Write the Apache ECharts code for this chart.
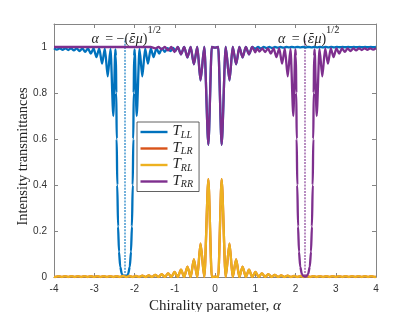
<!DOCTYPE html>
<html><head><meta charset="utf-8">
<script src="https://cdn.jsdelivr.net/npm/echarts@6/dist/echarts.min.js"></script>
<style>html,body{margin:0;padding:0;background:#fff}#c{width:415px;height:312px}</style>
</head><body><div id="c"></div>
<script>
// ---- data ----
const seriesNames = ['T_LL', 'T_LR', 'T_RL', 'T_RR'];
const resonanceAlpha = [-2.236, 2.236];
const dottedTop = 1.036;
const dottedBottom = 0.004;

const tLL = [
[-4.000,0.995],[-3.926,0.989],[-3.856,0.994],[-3.786,0.988],[-3.716,0.994],[-3.646,0.987],[-3.576,0.994],[-3.506,0.985],[-3.436,0.994],[-3.366,0.982],[-3.296,0.994],[-3.226,0.979],[-3.156,0.994],[-3.086,0.971],[-3.016,0.994],[-2.946,0.956],[-2.876,0.994],[-2.806,0.928],[-2.736,0.993],[-2.666,0.872],[-2.596,0.992],[-2.526,0.700],[-2.476,0.990],
[-2.462,0.960],[-2.452,0.800],[-2.442,0.600],[-2.428,0.400],[-2.408,0.220],[-2.385,0.110],[-2.355,0.045],[-2.315,0.014],[-2.275,0.004],[-2.236,0.002],[-2.197,0.004],[-2.157,0.014],[-2.117,0.045],[-2.087,0.110],[-2.064,0.220],[-2.044,0.400],[-2.030,0.600],[-2.020,0.800],[-2.010,0.960],
[-1.996,0.990],[-1.946,0.700],[-1.876,0.992],[-1.806,0.872],[-1.736,0.993],[-1.666,0.928],[-1.596,0.994],[-1.526,0.956],[-1.456,0.994],[-1.386,0.971],[-1.316,0.994],[-1.246,0.979],[-1.176,0.995],[-1.106,0.982],[-1.040,0.996],[-0.975,0.984],
[-0.925,1.000],[-0.845,0.968],[-0.765,1.000],[-0.685,0.955],[-0.605,1.000],[-0.525,0.925],[-0.440,1.000],[-0.360,0.855],[-0.265,1.000],[-0.165,0.575],[-0.080,1.000],[0.000,0.997],[0.080,1.000],[0.165,0.575],[0.265,1.000],[0.360,0.855],[0.440,1.000],[0.525,0.925],[0.605,1.000],[0.685,0.955],[0.765,1.000],[0.845,0.968],[0.925,1.000],
[1.000,0.992],[1.070,1.000],[1.140,0.994],[1.210,1.000],[1.280,0.995],[1.350,1.000],[1.420,0.996],[1.490,1.000],[1.560,0.997],[1.630,1.000],[1.700,0.997],[1.770,1.000],[1.840,0.998],[1.910,1.000],[1.980,0.998],[2.050,1.000],[2.120,0.998],[2.190,1.000],[2.260,0.998],[2.330,1.000],[2.400,0.998],[2.470,1.000],[2.540,0.998],[2.610,1.000],[2.680,0.998],[2.750,1.000],[2.820,0.998],[2.890,1.000],[2.960,0.998],[3.030,1.000],[3.100,0.999],[3.170,1.000],[3.240,0.999],[3.310,1.000],[3.380,0.999],[3.450,1.000],[3.520,0.999],[3.590,1.000],[3.660,0.999],[3.730,1.000],[3.800,0.999],[3.870,1.000],[3.940,0.999],[4.000,1.000]
];

const tRR = [
[-4.000,1.000],[-1.600,1.000],[-1.485,0.994],[-1.405,1.000],[-1.325,0.990],[-1.245,1.000],[-1.165,0.985],[-1.085,1.000],[-1.005,0.978],
[-0.925,1.000],[-0.845,0.968],[-0.765,1.000],[-0.685,0.955],[-0.605,1.000],[-0.525,0.925],[-0.440,1.000],[-0.360,0.855],[-0.265,1.000],[-0.165,0.575],[-0.080,1.000],[0.000,0.997],[0.080,1.000],[0.165,0.575],[0.265,1.000],[0.360,0.855],[0.440,1.000],[0.525,0.925],[0.605,1.000],[0.685,0.955],[0.765,1.000],[0.845,0.968],[0.925,1.000],
[1.000,0.977],[1.050,0.994],[1.106,0.980],[1.176,0.994],[1.246,0.978],[1.316,0.994],[1.386,0.971],[1.456,0.994],[1.526,0.956],[1.596,0.994],[1.666,0.928],[1.736,0.993],[1.806,0.872],[1.876,0.992],[1.946,0.700],[1.996,0.990],
[2.010,0.960],[2.020,0.800],[2.030,0.600],[2.044,0.400],[2.064,0.220],[2.087,0.110],[2.117,0.045],[2.157,0.014],[2.197,0.004],[2.236,0.002],[2.275,0.004],[2.315,0.014],[2.355,0.045],[2.385,0.110],[2.408,0.220],[2.428,0.400],[2.442,0.600],[2.452,0.800],[2.462,0.960],[2.476,0.990],
[2.526,0.700],[2.596,0.992],[2.666,0.872],[2.736,0.993],[2.806,0.928],[2.876,0.994],[2.946,0.956],[3.016,0.994],[3.086,0.971],[3.156,0.994],[3.226,0.979],[3.296,0.994],[3.366,0.982],[3.436,0.994],[3.506,0.985],[3.576,0.994],[3.646,0.987],[3.716,0.994],[3.786,0.988],[3.856,0.994],[3.926,0.989],[4.000,0.995]
];

const tRL = [
[-4.000,0.001],[-3.965,0.000],[-3.885,0.004],[-3.805,0.000],[-3.725,0.004],[-3.645,0.000],[-3.565,0.004],[-3.485,0.000],[-3.405,0.004],[-3.325,0.000],[-3.245,0.004],[-3.165,0.000],[-3.085,0.004],[-3.005,0.000],[-2.925,0.004],[-2.845,0.000],[-2.765,0.004],[-2.685,0.000],[-2.605,0.004],[-2.525,0.000],[-2.445,0.004],[-2.365,0.000],[-2.285,0.005],[-2.205,0.000],[-2.125,0.005],[-2.045,0.000],[-1.965,0.005],[-1.885,0.000],[-1.805,0.006],[-1.725,0.000],[-1.645,0.007],[-1.565,0.000],[-1.485,0.009],[-1.405,0.000],[-1.325,0.012],[-1.245,0.000],[-1.165,0.016],[-1.085,0.000],[-1.005,0.022],[-0.925,0.000],[-0.845,0.032],[-0.765,0.000],[-0.685,0.045],[-0.605,0.000],[-0.525,0.076],[-0.440,0.000],[-0.360,0.145],[-0.265,0.000],[-0.165,0.425],[-0.080,0.000],
[0.000,0.002],[0.080,0.000],[0.165,0.425],[0.265,0.000],[0.360,0.145],[0.440,0.000],[0.525,0.076],[0.605,0.000],[0.685,0.045],[0.765,0.000],[0.845,0.032],[0.925,0.000],[1.005,0.022],[1.085,0.000],[1.165,0.016],[1.245,0.000],[1.325,0.012],[1.405,0.000],[1.485,0.009],[1.565,0.000],[1.645,0.007],[1.725,0.000],[1.805,0.006],[1.885,0.000],[1.965,0.005],[2.045,0.000],[2.125,0.005],[2.205,0.000],[2.285,0.005],[2.365,0.000],[2.445,0.004],[2.525,0.000],[2.605,0.004],[2.685,0.000],[2.765,0.004],[2.845,0.000],[2.925,0.004],[3.005,0.000],[3.085,0.004],[3.165,0.000],[3.245,0.004],[3.325,0.000],[3.405,0.004],[3.485,0.000],[3.565,0.004],[3.645,0.000],[3.725,0.004],[3.805,0.000],[3.885,0.004],[3.965,0.000],[4.000,0.001]
];
// T_LR coincides with T_RL in the reference (fully hidden beneath it)
const tLR = tRL;

// ---- chart ----
const serif = '"Liberation Serif","DejaVu Serif",serif';
const sans = '"Liberation Sans",Arial,sans-serif';
const axisColor = '#858585';
const textColor = '#333333';
const colors = ['#0072BD', '#D95319', '#EDB120', '#7E2F8E'];
const dataSets = [tLL, tLR, tRL, tRR];

const mkAxisX = (pos, labels) => ({
  type: 'value', min: -4, max: 4, interval: 1, position: pos,
  axisLine: { onZero: false, lineStyle: { color: axisColor, width: 1 } },
  axisTick: { inside: true, length: 4, lineStyle: { color: axisColor } },
  axisLabel: labels ? { color: textColor, fontFamily: sans, fontSize: 10, margin: 7 } : { show: false },
  splitLine: { show: false }
});
const mkAxisY = (pos, labels) => ({
  type: 'value', min: 0, max: 1.1, interval: 0.2, position: pos,
  axisLine: { onZero: false, lineStyle: { color: axisColor, width: 1 } },
  axisTick: { inside: true, length: 4, lineStyle: { color: axisColor } },
  axisLabel: labels ? { color: textColor, fontFamily: sans, fontSize: 10, margin: 7,
    formatter: v => v > 1.05 ? '' : String(Math.round(v * 10) / 10) } : { show: false },
  splitLine: { show: false }
});

const xA = mkAxisX('bottom', true);
xA.name = '{n|Chirality parameter, }{i|α}';
xA.nameLocation = 'middle';
xA.nameGap = 16;
xA.nameTextStyle = { rich: {
  n: { fontFamily: serif, fontSize: 15, color: '#262626' },
  i: { fontFamily: serif, fontStyle: 'italic', fontSize: 15, color: '#262626' } } };

const series = seriesNames.map((n, i) => ({
  name: n, type: 'line', data: dataSets[i], symbol: 'none', showSymbol: false,
  smooth: 0.25, smoothMonotone: 'x',
  lineStyle: { width: 2.3, color: colors[i] }, itemStyle: { color: colors[i] },
  z: 3 + i
}));
[0, 1].forEach(k => {
  series.push({
    type: 'line', symbol: 'none', silent: true,
    data: [[resonanceAlpha[k], dottedBottom], [resonanceAlpha[k], dottedTop]],
    lineStyle: { width: 1.1, type: [2, 1.2], color: colors[k === 0 ? 0 : 3] },
    z: 2
  });
});

const annRich = {
  i: { fontFamily: serif, fontStyle: 'italic', fontSize: 14, lineHeight: 22, verticalAlign: 'bottom', fill: '#262626' },
  e: { fontFamily: '"DejaVu Serif",serif', fontStyle: 'italic', fontSize: 12.5, lineHeight: 22, verticalAlign: 'bottom', fill: '#262626' },
  n: { fontFamily: serif, fontSize: 14, lineHeight: 22, verticalAlign: 'bottom', fill: '#262626' },
  p: { fontFamily: serif, fontSize: 10.5, lineHeight: 10, verticalAlign: 'top', fill: '#262626' }
};

const chart = echarts.init(document.getElementById('c'), null, { renderer: 'canvas' });
chart.setOption({
  animation: false,
  backgroundColor: '#ffffff',
  grid: { left: 54, right: 39, top: 24, bottom: 35, outerBoundsMode: 'none', containLabel: false },
  xAxis: [xA, mkAxisX('top', false)],
  yAxis: [mkAxisY('left', true), mkAxisY('right', false)],
  legend: {
    data: seriesNames, orient: 'vertical', left: 137, top: 122,
    icon: 'rect',
    padding: [2, 6, 2, 3.5], itemGap: 0.5, itemWidth: 27, itemHeight: 2.4,
    borderColor: '#3a3a3a', borderWidth: 0.8, backgroundColor: '#ffffff',
    formatter: name => { const p = name.split('_'); return '{t|' + p[0] + '}{s|' + p[1] + '}'; },
    textStyle: { rich: {
      t: { fontFamily: serif, fontStyle: 'italic', fontSize: 15, lineHeight: 16, verticalAlign: 'top', color: '#262626' },
      s: { fontFamily: serif, fontStyle: 'italic', fontSize: 10, lineHeight: 9, verticalAlign: 'bottom', color: '#262626' }
    } }
  },
  graphic: [
    { type: 'text', left: 91.5, top: 24.5, z: 10, style: { text: '{i|α}{n|\u2009 = −(}{e|ε\u0304}{i|μ}{n|)}{p|1/2}', rich: annRich } },
    { type: 'text', left: 278, top: 24.5, z: 10, style: { text: '{i|α}{n|\u2009 = (}{e|ε\u0304}{i|μ}{n|)}{p|1/2}', rich: annRich } },
    { type: 'text', x: 23, y: 156.5, rotation: Math.PI / 2, z: 10,
      style: { text: 'Intensity transmittances', fontFamily: serif, fontSize: 14.5, fill: '#262626', align: 'center', verticalAlign: 'middle' } }
  ],
  series: series
});
</script>
</body></html>
